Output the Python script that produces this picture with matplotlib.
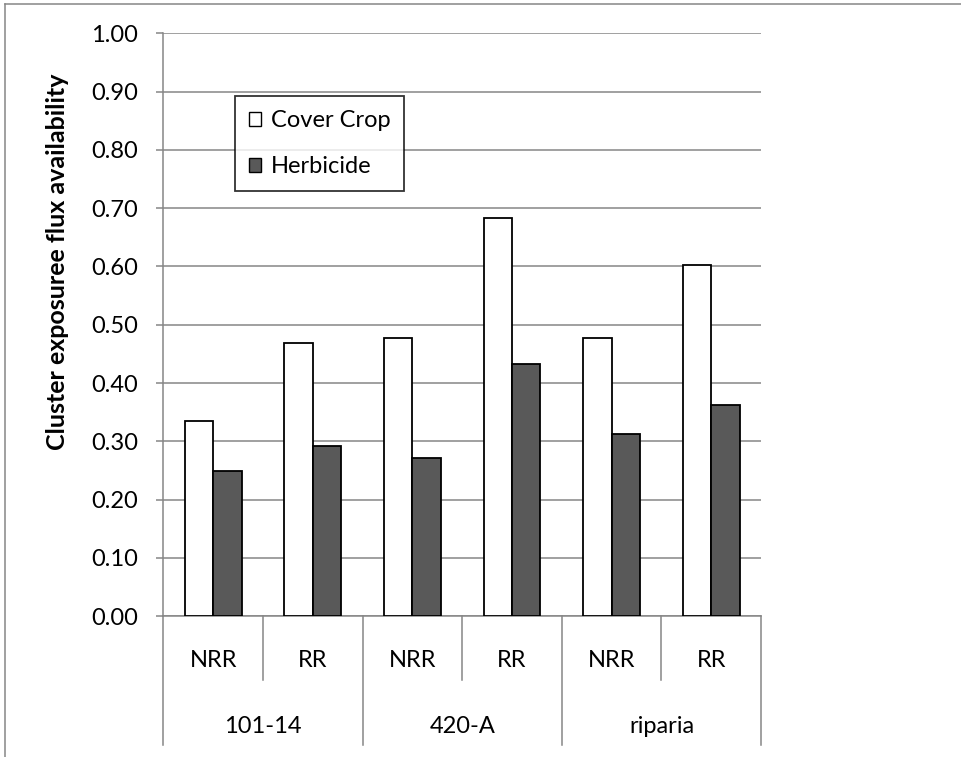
import matplotlib.pyplot as plt
import numpy as np
from matplotlib.lines import Line2D
from matplotlib.patches import Patch

plt.rcParams['font.family'] = ['Lato', 'DejaVu Sans']

groups = ["101-14", "420-A", "riparia"]
subgroups = ["NRR", "RR"]
cover_crop = [0.335, 0.468, 0.478, 0.684, 0.478, 0.603]
herbicide = [0.249, 0.292, 0.271, 0.432, 0.313, 0.363]

grid_col = "#868686"
dark = "#595959"
fs = 17

fig = plt.figure(figsize=(9.61, 7.57), dpi=100)
ax = fig.add_axes([0.170, 0.186, 0.622, 0.770])

x = np.arange(len(cover_crop))
w = 0.285
ax.bar(x - w / 2, cover_crop, w, color="white", edgecolor="black", linewidth=1.3, zorder=3, label="Cover Crop")
ax.bar(x + w / 2, herbicide, w, color=dark, edgecolor="black", linewidth=1.3, zorder=3, label="Herbicide")

ax.set_xlim(-0.5, len(x) - 0.5)
ax.set_ylim(0, 1.0)
ax.set_yticks(np.arange(0, 1.01, 0.1))
ax.set_yticklabels(["%.2f" % v for v in np.arange(0, 1.01, 0.1)], fontsize=fs)
ax.yaxis.grid(True, color=grid_col, linewidth=1.1, zorder=0)
ax.set_axisbelow(True)
ax.tick_params(axis="y", length=5, width=1.1, color=grid_col, pad=13)
ax.set_xticks([])
for s in ["top", "right"]:
    ax.spines[s].set_visible(False)
for s in ["left", "bottom"]:
    ax.spines[s].set_color(grid_col)
    ax.spines[s].set_linewidth(1.1)

# category axis below the plot
trans = ax.get_xaxis_transform()
for b in np.arange(-0.5, len(x), 1.0):
    if int(b + 0.5) % 2 == 0:
        yb = -0.221
    else:
        yb = -0.11
    ax.plot([b, b], [0, yb], color=grid_col, lw=1.1, transform=trans, clip_on=False)
for i in x:
    ax.text(i, -0.0755, subgroups[i % 2], ha="center", va="center", fontsize=fs, transform=trans)
for g, name in enumerate(groups):
    ax.text(2 * g + 0.5, -0.19, name, ha="center", va="center", fontsize=fs, transform=trans)

fig.text(0.060, 1 - 262 / 757, "Cluster exposuree flux availability", rotation=90,
         ha="center", va="center", fontsize=18, fontweight="bold")

handles = [Patch(facecolor="white", edgecolor="black", linewidth=1.0),
           Patch(facecolor=dark, edgecolor="black", linewidth=1.0)]
leg = ax.legend(handles, ["Cover Crop", "Herbicide"], loc="upper left",
                bbox_to_anchor=(0.12, 0.892), fontsize=fs, frameon=True, fancybox=False,
                edgecolor="black", handlelength=0.5, handleheight=0.5, handletextpad=0.4,
                labelspacing=1.05, borderpad=0.6, borderaxespad=0)
leg.get_frame().set_linewidth(1.3)

# outer chart border (left and top only, image is cropped)
fig.add_artist(Line2D([5 / 961, 5 / 961], [0, 1 - 4 / 757], color=grid_col, lw=1.1))
fig.add_artist(Line2D([5 / 961, 1], [1 - 4 / 757, 1 - 4 / 757], color=grid_col, lw=1.1))

plt.savefig("out.png", dpi=100)
